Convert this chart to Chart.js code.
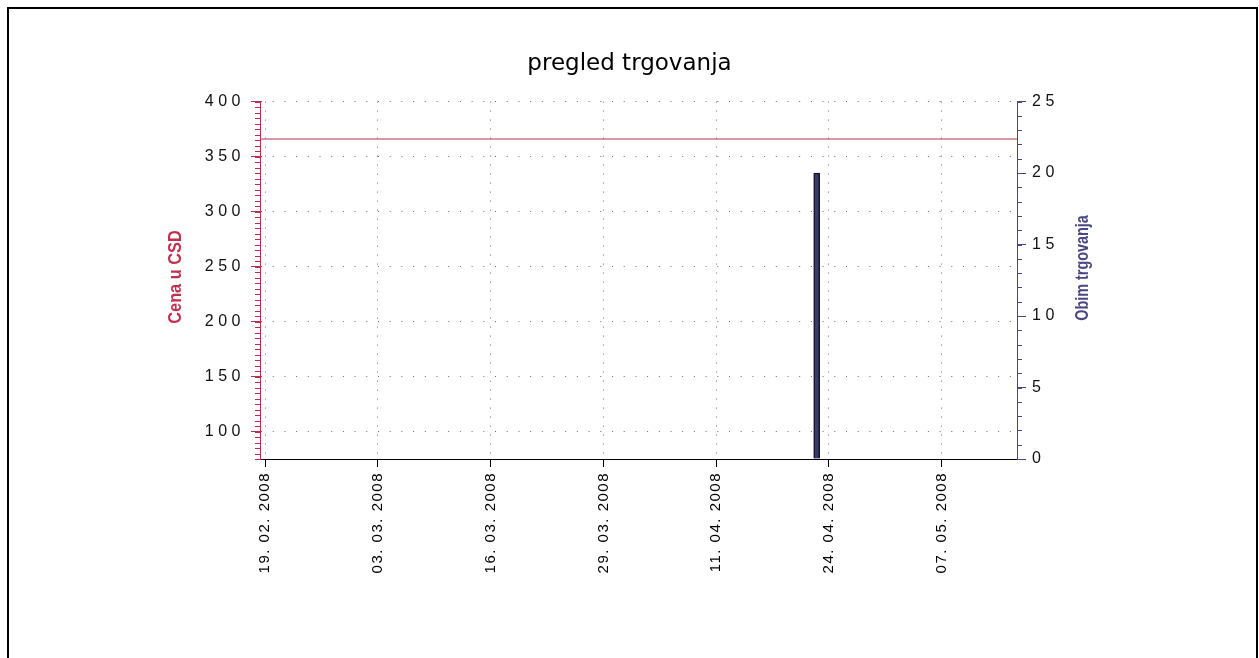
<!DOCTYPE html>
<html>
<head>
<meta charset="utf-8">
<script src="https://cdn.jsdelivr.net/npm/chart.js@4"></script>
<style>
  html, body { margin: 0; padding: 0; background: #fff; overflow: hidden; }
  #wrap { position: relative; width: 1259px; height: 658px; }
  #frame { position: absolute; left: 7px; top: 7px; width: 1247px; height: 700px; border: 2px solid #000; box-sizing: content-box; pointer-events: none; }
  canvas { position: absolute; left: 0; top: 0; }
</style>
</head>
<body>
<div id="wrap">
  <canvas id="c" width="1259" height="658"></canvas>
  <div id="frame"></div>
</div>
<script>
// ---- data (x = days since 19.02.2008) ----
const xTickDays = [0, 13, 26, 39, 52, 65, 78];
const xTickLabels = ['19. 02. 2008', '03. 03. 2008', '16. 03. 2008', '29. 03. 2008', '11. 04. 2008', '24. 04. 2008', '07. 05. 2008'];
const priceDays = [-0.6, 86.7];
const prices = [366, 366];
const volumeDays = [63.6];
const volumes = [20];

const xRange = [-0.6, 86.7];
const priceRange = [75, 400];
const priceMajorStep = 50;
const priceMinorStep = 5;
const volumeRange = [0, 25];
const volumeMajorStep = 5;
const volumeMinorStep = 1;

const titleText = 'pregled trgovanja';
const leftTitle = 'Cena u CSD';
const rightTitle = 'Obim trgovanja';

const leftColor = '#b3304f';
const rightColor = '#4a4882';
const gridColor = '#6e6e6e';
const yTickFont = { family: 'Liberation Sans, Arial, sans-serif', size: 16 };
const xTickFont = { family: 'Liberation Sans, Arial, sans-serif', size: 15 };

const spacingPlugin = {
  id: 'spacing',
  beforeDraw(chart) {
    const map = { x: '1.5px', y: '4.5px', y1: '4.5px' };
    for (const id in map) {
      const s = chart.scales[id];
      if (s && !s._spPatched) {
        const orig = s.drawLabels.bind(s);
        const sp = map[id];
        s.drawLabels = function (area) {
          const c = this.ctx;
          c.save();
          c.letterSpacing = sp;
          orig(area);
          c.restore();
        };
        s._spPatched = true;
      }
    }
  }
};

function vtext(ctx, text, x, y, font, color, sx) {
  ctx.save();
  ctx.translate(x, y);
  ctx.rotate(-Math.PI / 2);
  ctx.scale(sx, 1);
  ctx.font = font;
  ctx.fillStyle = color;
  ctx.textAlign = 'center';
  ctx.textBaseline = 'middle';
  ctx.fillText(text, 0, 0);
  ctx.restore();
}

const extrasPlugin = {
  id: 'extras',
  afterDraw(chart) {
    const ctx = chart.ctx;
    const a = chart.chartArea;
    const y = chart.scales.y, y1 = chart.scales.y1;
    ctx.save();
    ctx.lineWidth = 1;
    ctx.strokeStyle = leftColor;
    for (let v = priceRange[0]; v <= priceRange[1]; v += priceMinorStep) {
      const p = Math.round(y.getPixelForValue(v)) + 0.5;
      ctx.beginPath(); ctx.moveTo(a.left - 5, p); ctx.lineTo(a.left, p); ctx.stroke();
    }
    ctx.strokeStyle = rightColor;
    for (let v = volumeRange[0]; v <= volumeRange[1]; v += volumeMinorStep) {
      const p = Math.round(y1.getPixelForValue(v)) + 0.5;
      ctx.beginPath(); ctx.moveTo(a.right, p); ctx.lineTo(a.right + 5, p); ctx.stroke();
    }
    ctx.restore();
    vtext(ctx, leftTitle, 176, 277, 'bold 19px "Liberation Sans", Arial, sans-serif', '#c0304f', 0.86);
    vtext(ctx, rightTitle, 1083, 268, 'bold 18px "Liberation Sans", Arial, sans-serif', rightColor, 0.8);
  }
};

new Chart(document.getElementById('c'), {
  data: {
    datasets: [
      {
        type: 'line',
        label: 'Cena',
        data: priceDays.map((d, i) => ({ x: d, y: prices[i] })),
        borderColor: '#b5344f',
        borderWidth: 1.2,
        pointRadius: 0,
        yAxisID: 'y',
        xAxisID: 'x'
      },
      {
        type: 'bar',
        label: 'Obim',
        data: volumeDays.map((d, i) => ({ x: d, y: volumes[i] })),
        backgroundColor: '#3a3a6c',
        borderColor: '#14132c',
        borderWidth: 1.5,
        barThickness: 6,
        yAxisID: 'y1',
        xAxisID: 'x'
      }
    ]
  },
  options: {
    responsive: false,
    animation: false,
    devicePixelRatio: 1,
    layout: { padding: 0 },
    plugins: {
      legend: { display: false },
      tooltip: { enabled: false },
      title: {
        display: true,
        text: titleText,
        color: '#000',
        font: { family: 'DejaVu Sans, Verdana, sans-serif', size: 23, weight: 'normal', lineHeight: 1.2 },
        padding: { top: 50, bottom: 24 }
      }
    },
    scales: {
      x: {
        type: 'linear',
        position: 'bottom',
        min: xRange[0],
        max: xRange[1],
        offset: false,
        afterBuildTicks: (s) => { s.ticks = xTickDays.map(v => ({ value: v })); },
        afterFit: (s) => { s.height = 658 - 459; s.paddingLeft = 0; s.paddingRight = 0; },
        ticks: {
          autoSkip: false,
          maxRotation: 90,
          minRotation: 90,
          padding: 5,
          color: '#000',
          font: xTickFont,
          callback: (v) => { const i = xTickDays.indexOf(v); return i >= 0 ? xTickLabels[i] : ''; }
        },
        grid: { offset: false, color: gridColor, lineWidth: 1, drawTicks: true, tickLength: 8, tickColor: '#000' },
        border: { color: '#000', width: 1, dash: [1, 8] }
      },
      y: {
        type: 'linear',
        position: 'left',
        min: priceRange[0],
        max: priceRange[1],
        afterBuildTicks: (s) => { s.ticks = s.ticks.filter(t => t.value % priceMajorStep === 0); },
        afterFit: (s) => { s.width = 260; s.paddingTop = 0; s.paddingBottom = 0; },
        ticks: { stepSize: priceMajorStep, padding: 6, color: '#111', font: yTickFont },
        grid: { color: gridColor, lineWidth: 1, drawTicks: true, tickLength: 9, tickColor: leftColor },
        border: { color: leftColor, width: 1, dash: [1, 10.7] }
      },
      y1: {
        type: 'linear',
        position: 'right',
        min: volumeRange[0],
        max: volumeRange[1],
        afterFit: (s) => { s.width = 1259 - 1017; s.paddingTop = 0; s.paddingBottom = 0; },
        ticks: { stepSize: volumeMajorStep, padding: 6, color: '#111', font: yTickFont },
        grid: { drawOnChartArea: false, drawTicks: true, tickLength: 9, tickColor: rightColor },
        border: { color: rightColor, width: 1 }
      }
    }
  },
  plugins: [spacingPlugin, extrasPlugin]
});
</script>
</body>
</html>
